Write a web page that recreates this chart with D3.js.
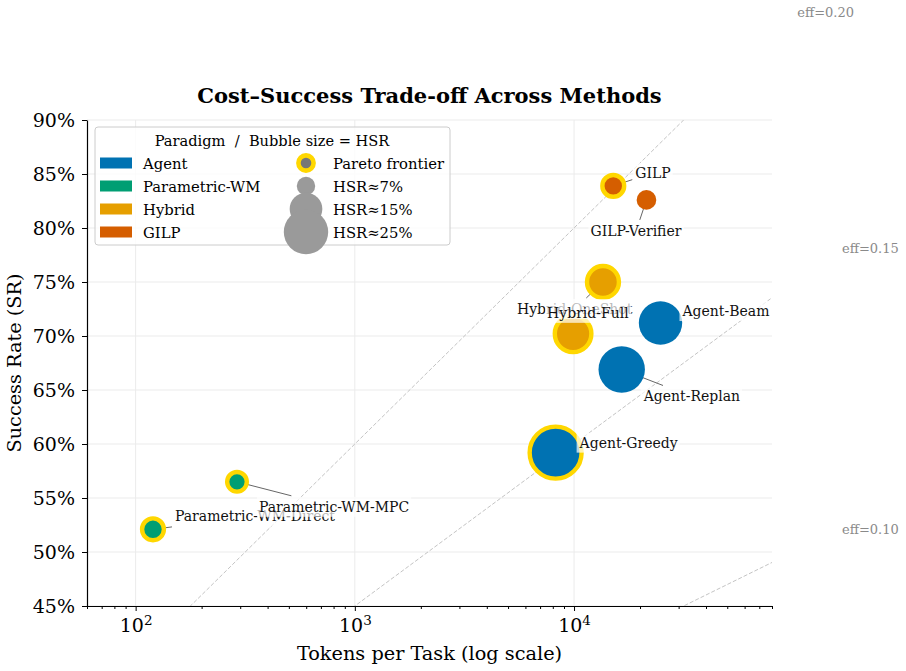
<!DOCTYPE html>
<html>
<head>
<meta charset="utf-8">
<script src="https://cdn.jsdelivr.net/npm/d3@7"></script>
<style>
  body { margin: 0; background: #fff; }
  svg { font-family: "DejaVu Serif", serif; }
</style>
</head>
<body>
<svg width="906" height="671"></svg>
<script>
// data
const methods = ['Agent-Greedy', 'Agent-Replan', 'Agent-Beam', 'Parametric-WM-Direct', 'Parametric-WM-MPC',
                 'Hybrid-OneShot', 'Hybrid-Full', 'GILP', 'GILP-Verifier'];
const paradigmOf = ['Agent', 'Agent', 'Agent', 'Parametric-WM', 'Parametric-WM', 'Hybrid', 'Hybrid', 'GILP', 'GILP'];
const tokens = [8240, 16500, 24800, 120, 290, 13550, 9900, 15100, 21400];
const successRate = [59.2, 66.9, 71.2, 52.1, 56.5, 75.0, 70.2, 83.9, 82.6];
const hsr = [33, 27, 24, 8.5, 7.5, 14.5, 18, 8.5, 7.5];
const pareto = [true, false, false, true, true, true, true, true, false];

const paradigms = ['Agent', 'Parametric-WM', 'Hybrid', 'GILP'];
const sizeLegend = [7, 15, 25];
const effLevels = [0.10, 0.15, 0.20];
const yTicks = [45, 50, 55, 60, 65, 70, 75, 80, 85, 90];
const xTicks = [100, 1000, 10000];

const svg = d3.select('svg');
const width = +svg.attr('width');
const height = +svg.attr('height');

var margin = {top: 120, right: 134, bottom: 65, left: 87};
var innerwidth = width - margin.left - margin.right;
var innerheight = height - margin.top - margin.bottom;

const colour = d3.scaleOrdinal(paradigms, ['#0072B2', '#009E73', '#E69F00', '#D55E00']);
const gold = '#FFD700';

const xscale = d3.scaleLog().domain([60, 80000]).range([0, innerwidth]);
const yscale = d3.scaleLinear().domain([45, 90]).range([innerheight, 0]);
// bubble area (px^2) grows linearly with HSR
const areascale = d3.scaleLinear().domain([7, 25]).range([85, 493]);
const radius = h => Math.sqrt(areascale(h));

const data = methods.map((m, i) => ({
    name: m, paradigm: paradigmOf[i], tokens: tokens[i], sr: successRate[i], hsr: hsr[i], pareto: pareto[i]
}));

const g = svg.append('g')
    .attr('transform', 'translate(' + margin.left + ',' + margin.top + ')');

svg.append('defs').append('clipPath').attr('id', 'plotclip')
    .append('rect').attr('width', innerwidth).attr('height', innerheight);

// grid
const gridG = g.append('g');
gridG.selectAll('.hgrid').data(yTicks).enter().append('line')
    .attr('x1', 0).attr('x2', innerwidth)
    .attr('y1', d => yscale(d)).attr('y2', d => yscale(d))
    .attr('stroke', '#ebebeb').attr('stroke-width', 1);
gridG.selectAll('.vgrid').data(xTicks).enter().append('line')
    .attr('y1', 0).attr('y2', innerheight)
    .attr('x1', d => xscale(d)).attr('x2', d => xscale(d))
    .attr('stroke', '#ebebeb').attr('stroke-width', 1);

// iso-efficiency guides: SR = eff * log10(tokens)
const effG = g.append('g');
const xdom = xscale.domain();
effLevels.forEach(eff => {
    const pts = xdom.map(x => [x, eff * Math.log10(x) * 100]);
    effG.append('path')
        .attr('clip-path', 'url(#plotclip)')
        .attr('d', d3.line().x(d => xscale(d[0])).y(d => yscale(d[1]))(pts))
        .attr('fill', 'none').attr('stroke', '#c4c4c4').attr('stroke-width', 1)
        .attr('stroke-dasharray', '4,2');
    const lx = Math.pow(10, Math.min(Math.log10(xdom[1] * 2), 1 / eff));
    const ly = eff * Math.log10(lx) * 100;
    g.append('text')
        .attr('x', xscale(lx) + 4).attr('y', yscale(ly))
        .attr('dominant-baseline', 'central')
        .attr('font-size', 13).attr('fill', '#8a8a8a')
        .text('eff=' + eff.toFixed(2));
});

// axes
const yaxisG = g.append('g')
    .call(d3.axisLeft(yscale).tickValues(yTicks).tickFormat(d => d + '%').tickSize(5).tickSizeOuter(0).tickPadding(7));
yaxisG.selectAll('text').attr('font-size', 19).attr('font-family', 'DejaVu Serif').attr('fill', '#000');

const minorTicks = [];
[10, 100, 1000, 10000].forEach(dec => {
    for (let k = 2; k <= 9; k++) {
        const v = dec * k;
        if (v >= xdom[0] && v <= xdom[1]) minorTicks.push(v);
    }
});
g.append('g').attr('transform', 'translate(0,' + innerheight + ')')
    .call(d3.axisBottom(xscale).tickValues(minorTicks).tickFormat('').tickSize(3).tickSizeOuter(0))
    .select('.domain').remove();
const xaxisG = g.append('g').attr('transform', 'translate(0,' + innerheight + ')')
    .call(d3.axisBottom(xscale).tickValues(xTicks).tickFormat('').tickSize(5).tickSizeOuter(0));
xaxisG.selectAll('.tick').each(function(d) {
    const t = d3.select(this).append('text')
        .attr('y', 26).attr('fill', '#000').attr('font-size', 19)
        .attr('font-family', 'DejaVu Serif').attr('text-anchor', 'middle');
    t.append('tspan').text('10');
    t.append('tspan').attr('dy', -7.5).attr('font-size', 13.5).text(Math.round(Math.log10(d)));
});
g.selectAll('.domain').attr('stroke', '#000').attr('stroke-width', 1.2);
g.selectAll('.tick line').attr('stroke', '#000');

g.append('text')
    .attr('x', innerwidth / 2).attr('y', innerheight + 54)
    .attr('text-anchor', 'middle').attr('font-size', 19.3)
    .text('Tokens per Task (log scale)');
g.append('text')
    .attr('transform', 'rotate(-90)')
    .attr('x', -innerheight / 2).attr('y', -66)
    .attr('text-anchor', 'middle').attr('font-size', 19.3)
    .text('Success Rate (SR)');
g.append('text')
    .attr('x', innerwidth / 2).attr('y', -17)
    .attr('text-anchor', 'middle').attr('font-size', 21).attr('font-weight', 'bold')
    .text('Cost\u2013Success Trade-off Across Methods');

// layout: label offset from bubble centre (left edge, vertical middle)
const labelOffset = {
    'Agent-Greedy': [24, -10], 'Agent-Replan': [22, 27], 'Agent-Beam': [22, -12],
    'Parametric-WM-Direct': [22, -13], 'Parametric-WM-MPC': [22, 25],
    'Hybrid-OneShot': [-86, 27], 'Hybrid-Full': [-26, -21],
    'GILP': [22, -13], 'GILP-Verifier': [-56, 31]
};

const leaderG = g.append('g');
const bubbleG = g.append('g');
const labelG = g.append('g');

bubbleG.selectAll('circle').data(data).enter().append('circle')
    .attr('cx', d => xscale(d.tokens))
    .attr('cy', d => yscale(d.sr))
    .attr('r', d => radius(d.hsr))
    .attr('fill', d => colour(d.paradigm))
    .attr('stroke', d => d.pareto ? gold : 'none')
    .attr('stroke-width', 4.4);

data.forEach(d => {
    const cx = xscale(d.tokens), cy = yscale(d.sr);
    const off = labelOffset[d.name];
    const lg = labelG.append('g');
    const t = lg.append('text')
        .attr('x', cx + off[0]).attr('y', cy + off[1])
        .attr('dominant-baseline', 'central')
        .attr('font-size', 14).attr('fill', '#111')
        .text(d.name);
    const bb = t.node().getBBox();
    const pad = 2;
    lg.insert('rect', 'text')
        .attr('x', bb.x - pad).attr('y', bb.y - pad)
        .attr('width', bb.width + 2 * pad).attr('height', bb.height + 2 * pad)
        .attr('fill', '#fff').attr('fill-opacity', 0.7);
    // leader from bubble centre to the text centre, stopped at the box edge
    const tx = bb.x + bb.width / 2, ty = bb.y + bb.height / 2;
    const hx = bb.width / 2 + pad + 1, hy = bb.height / 2 + pad + 1;
    const dx = tx - cx, dy = ty - cy;
    const s = Math.min(Math.abs(dx) > 0 ? hx / Math.abs(dx) : Infinity, Math.abs(dy) > 0 ? hy / Math.abs(dy) : Infinity);
    if (s < 1) {
        leaderG.append('line')
            .attr('x1', cx).attr('y1', cy)
            .attr('x2', tx - dx * s).attr('y2', ty - dy * s)
            .attr('stroke', '#666').attr('stroke-width', 1);
    }
});

// legend
const lgd = svg.append('g');
lgd.append('rect')
    .attr('x', 95).attr('y', 127).attr('width', 355).attr('height', 118).attr('rx', 3)
    .attr('fill', '#fff').attr('fill-opacity', 0.8)
    .attr('stroke', '#cccccc').attr('stroke-width', 1);
lgd.append('text')
    .attr('x', 272).attr('y', 140).attr('text-anchor', 'middle')
    .attr('dominant-baseline', 'central').attr('font-size', 14.6)
    .style('white-space', 'pre')
    .text('Paradigm  /  Bubble size = HSR');
const rowY = [163, 186, 209, 232];
paradigms.forEach((p, i) => {
    lgd.append('rect').attr('x', 100).attr('y', rowY[i] - 5.5).attr('width', 32).attr('height', 11)
        .attr('fill', colour(p));
    lgd.append('text').attr('x', 143).attr('y', rowY[i]).attr('dominant-baseline', 'central')
        .attr('font-size', 14.8).text(p);
});
lgd.append('circle').attr('cx', 306).attr('cy', rowY[0]).attr('r', 7.6)
    .attr('fill', '#777').attr('stroke', gold).attr('stroke-width', 4.6);
lgd.append('text').attr('x', 333).attr('y', rowY[0]).attr('dominant-baseline', 'central')
    .attr('font-size', 14.8).text('Pareto frontier');
sizeLegend.forEach((h, i) => {
    lgd.append('circle').attr('cx', 306).attr('cy', rowY[i + 1]).attr('r', radius(h))
        .attr('fill', '#9a9a9a');
    lgd.append('text').attr('x', 333).attr('y', rowY[i + 1]).attr('dominant-baseline', 'central')
        .attr('font-size', 14.8).text('HSR\u2248' + h + '%');
});
</script>
</body>
</html>
